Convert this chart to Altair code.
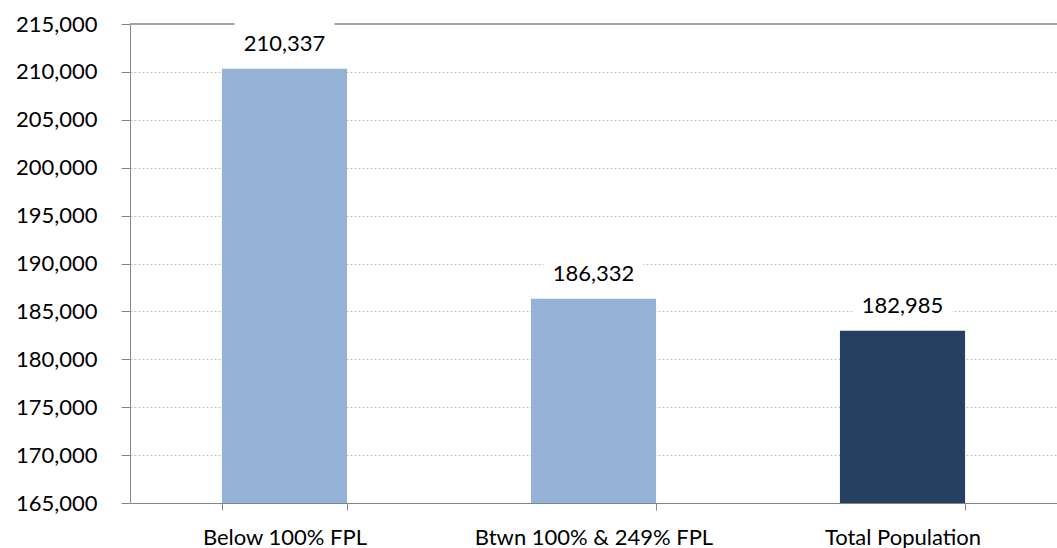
import altair as alt
import pandas as pd

# Values for each population group
categories = ["Below 100% FPL", "Btwn 100% & 249% FPL", "Total Population"]
values = [210337, 186332, 182985]
bar_colors = ["#95B3D7", "#95B3D7", "#254061"]
y_ticks = list(range(165000, 215001, 5000))

df = pd.DataFrame({
    "group": categories,
    "value": values,
    "base": [y_ticks[0]] * len(values),
    "top": [y_ticks[-1]] * len(values),
    "color": bar_colors,
})

FONT = "Lato"
AXIS_GRAY = "#868686"

x_axis = alt.Axis(
    title=None,
    labelAngle=0,
    labelFont=FONT,
    labelFontSize=22,
    labelColor="#000000",
    labelPadding=17,
    labelLimit=0,
    tickBand="extent",
    tickSize=7,
    tickColor=AXIS_GRAY,
    domainColor=AXIS_GRAY,
    grid=False,
)
x_scale = alt.Scale(paddingInner=0.595, paddingOuter=0.2975)
x_enc = alt.X("group:N", sort=categories, scale=x_scale, axis=x_axis)

y_axis = alt.Axis(
    title=None,
    values=y_ticks,
    labelExpr="format(datum.value, ',')",
    labelFont=FONT,
    labelFontSize=22,
    labelColor="#000000",
    labelPadding=24,
    tickSize=9,
    tickColor=AXIS_GRAY,
    domainColor=AXIS_GRAY,
    grid=True,
    gridColor="#c0c0c0",
    gridDash=[2, 2],
    gridWidth=1,
)
y_scale = alt.Scale(domain=[y_ticks[0], y_ticks[-1]], zero=False, nice=False)
y_enc = alt.Y("value:Q", scale=y_scale, axis=y_axis)

base = alt.Chart(df)

bars = base.mark_bar().encode(
    x=x_enc,
    y=y_enc,
    y2="base:Q",
    color=alt.Color("color:N", scale=None),
)

# Solid line along the top of the plot area
top_line = base.mark_rule(color="#a0a0a0", strokeWidth=1.5).encode(
    y=alt.Y("top:Q", scale=y_scale, axis=y_axis)
)

# White backing boxes behind the value labels
label_boxes = base.mark_point(
    shape="M-1,-0.37L1,-0.37L1,0.37L-1,0.37Z",
    filled=True,
    fill="white",
    opacity=1,
    size=10000,
    strokeWidth=0,
    yOffset=-28,
).encode(x=x_enc, y=y_enc)

labels = base.mark_text(
    font=FONT,
    fontSize=22,
    color="#000000",
    baseline="alphabetic",
    dy=-18,
).encode(
    x=x_enc,
    y=y_enc,
    text=alt.Text("value:Q", format=","),
)

chart = (
    alt.layer(bars, top_line, label_boxes, labels)
    .properties(
        width=927,
        height=479,
        padding={"left": 130, "top": 24, "right": 0, "bottom": 45},
        autosize=alt.AutoSizeParams(type="none"),
    )
    .configure_view(stroke=None)
)

chart.save("out.html", embed_options={"renderer": "svg", "actions": False})
